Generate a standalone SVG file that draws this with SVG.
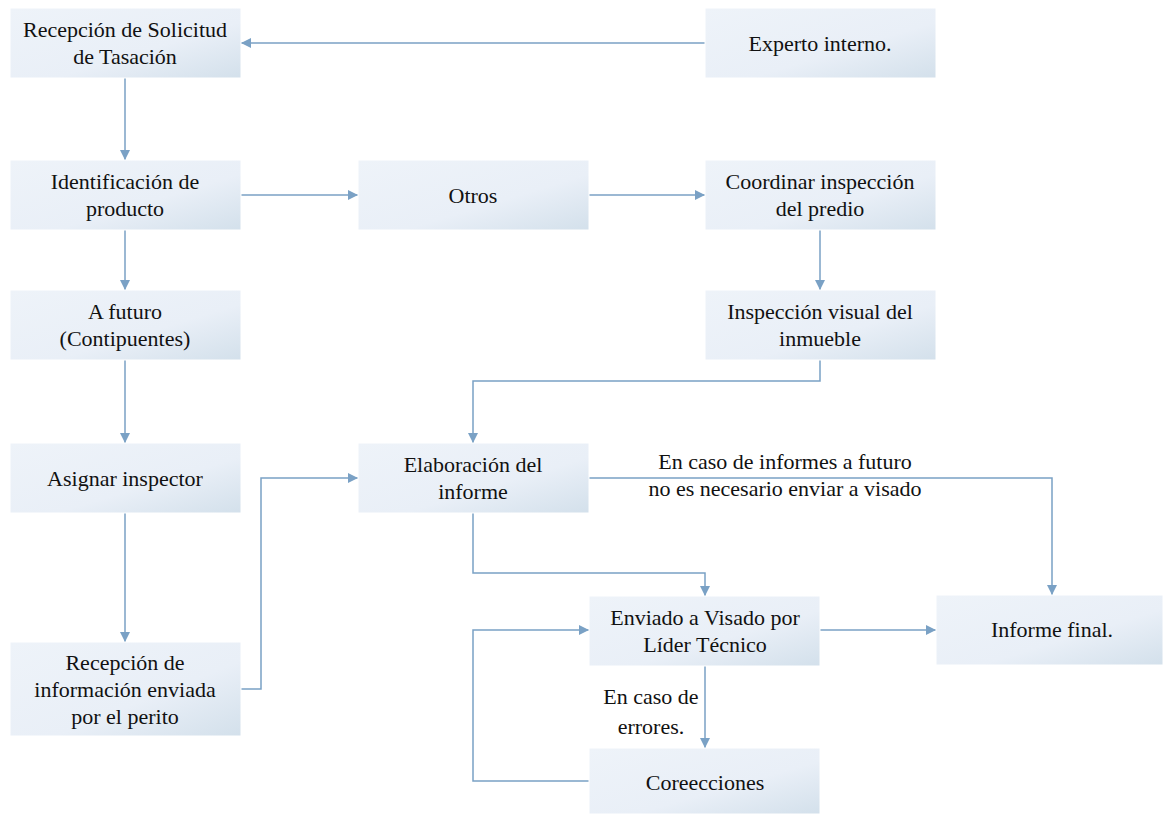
<svg xmlns="http://www.w3.org/2000/svg" width="1164" height="814" viewBox="0 0 1164 814">
<defs>
<linearGradient id="g" x1="0" y1="0" x2="1" y2="1">
<stop offset="0" stop-color="#eef3f9"/>
<stop offset="0.6" stop-color="#e9eff7"/>
<stop offset="1" stop-color="#d3e0eb"/>
</linearGradient>
<marker id="ah" viewBox="0 0 10 10" refX="10" refY="5" markerWidth="10" markerHeight="10" markerUnits="userSpaceOnUse" orient="auto">
<path d="M0,0 L10,5 L0,10 z" fill="#7aa1c5"/>
</marker>
<style>
.box{fill:url(#g);stroke:#ffffff;stroke-width:1}
.t{font-size:22px;fill:#111;text-anchor:middle}
.c{fill:none;stroke:#7aa1c5;stroke-width:1.5;marker-end:url(#ah)}
</style>
</defs>
<rect width="1164" height="814" fill="#fff"/>
<g font-family="Liberation Serif, Times New Roman, serif">
<g id="connectors">
<path class="c" d="M705,43 H241"/>
<path class="c" d="M125,78 V160"/>
<path class="c" d="M241,195 H358"/>
<path class="c" d="M589,195 H705"/>
<path class="c" d="M125,230 V290"/>
<path class="c" d="M125,360 V443"/>
<path class="c" d="M125,513 V642"/>
<path class="c" d="M241,689 H261 V478 H358"/>
<path class="c" d="M820,230 V290"/>
<path class="c" d="M820,360 V381 H473 V443"/>
<path class="c" d="M589,478 H1052 V595"/>
<path class="c" d="M473,513 V573 H705 V596"/>
<path class="c" d="M820,630 H936"/>
<path class="c" d="M705,666 V748"/>
<path class="c" d="M589,781 H473 V630 H589"/>
<text class="t" x="785" y="469">En caso de informes a futuro</text>
<text class="t" x="785" y="496">no es necesario enviar a visado</text>
<text class="t" x="651" y="704">En caso de</text>
<text class="t" x="651" y="734">errores.</text>
</g>
<g id="n1"><rect class="box" x="10" y="8" width="231" height="70"/><text class="t" x="125" y="37">Recepción de Solicitud</text><text class="t" x="125" y="64">de Tasación</text></g>
<g id="n2"><rect class="box" x="705" y="8" width="231" height="70"/><text class="t" x="820" y="51">Experto interno.</text></g>
<g id="n3"><rect class="box" x="10" y="160" width="231" height="70"/><text class="t" x="125" y="189">Identificación de</text><text class="t" x="125" y="216">producto</text></g>
<g id="n4"><rect class="box" x="358" y="160" width="231" height="70"/><text class="t" x="473" y="203">Otros</text></g>
<g id="n5"><rect class="box" x="705" y="160" width="231" height="70"/><text class="t" x="820" y="189">Coordinar inspección</text><text class="t" x="820" y="216">del predio</text></g>
<g id="n6"><rect class="box" x="10" y="290" width="231" height="70"/><text class="t" x="125" y="319">A futuro</text><text class="t" x="125" y="346">(Contipuentes)</text></g>
<g id="n7"><rect class="box" x="705" y="290" width="231" height="70"/><text class="t" x="820" y="319">Inspección visual del</text><text class="t" x="820" y="346">inmueble</text></g>
<g id="n8"><rect class="box" x="10" y="443" width="231" height="70"/><text class="t" x="125" y="486">Asignar inspector</text></g>
<g id="n9"><rect class="box" x="358" y="443" width="231" height="70"/><text class="t" x="473" y="472">Elaboración del</text><text class="t" x="473" y="499">informe</text></g>
<g id="n10"><rect class="box" x="10" y="642" width="231" height="94"/><text class="t" x="125" y="670">Recepción de</text><text class="t" x="125" y="697">información enviada</text><text class="t" x="125" y="724">por el perito</text></g>
<g id="n11"><rect class="box" x="589" y="596" width="231" height="70"/><text class="t" x="705" y="625">Enviado a Visado por</text><text class="t" x="705" y="652">Líder Técnico</text></g>
<g id="n12"><rect class="box" x="936" y="595" width="227" height="70"/><text class="t" x="1052" y="637">Informe final.</text></g>
<g id="n13"><rect class="box" x="589" y="748" width="231" height="66"/><text class="t" x="705" y="790">Coreecciones</text></g>
</g>
</svg>
